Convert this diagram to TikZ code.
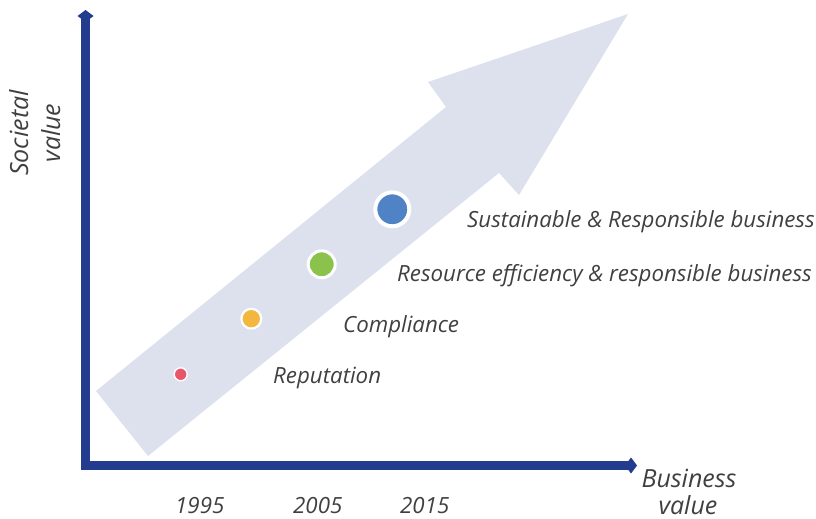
\documentclass[tikz,border=0pt]{standalone}
\usepackage{fontspec}
\setmainfont{Open Sans}
\usetikzlibrary{arrows.meta}
\definecolor{arrowbg}{HTML}{DDE1EE}
\definecolor{axiscol}{HTML}{233C8E}
\definecolor{txt}{HTML}{404040}
\definecolor{dotred}{HTML}{E8566B}
\definecolor{dotyellow}{HTML}{F3B73F}
\definecolor{dotgreen}{HTML}{8BC24C}
\definecolor{dotblue}{HTML}{5083C5}
\tikzset{
  axisline/.style={line width=9pt, draw=axiscol, line join=miter, {Diamond[length=12pt,width=16pt]}-{Diamond[length=12pt,width=16pt]}},
  lbl/.style={inner sep=0pt, text=txt, font=\fontsize{22.3}{26}\selectfont\itshape},
  biglbl/.style={lbl, font=\fontsize{25}{30}\selectfont\itshape},
  dot/.style={circle, draw=white, inner sep=0pt}
}
\begin{document}
\begin{tikzpicture}[x=1pt,y=-1pt]
\useasboundingbox (0,0) rectangle (816,519);
% big background arrow
\fill[arrowbg] (96,391) -- (446,107) -- (428,82) -- (628,14) -- (519,195) -- (499,173) -- (148,456) -- cycle;
% axes
\coordinate (ytop) at (85.5,10);
\coordinate (xend) at (637,465.5);
\draw[axisline] (ytop) |- (xend);
% dots
\node[dot, fill=dotred, line width=1.4pt, minimum size=13pt] (d1) at (180.7,374.3) {};
\node[dot, fill=dotyellow, line width=2.2pt, minimum size=19.8pt] (d2) at (251.3,318.7) {};
\node[dot, fill=dotgreen, line width=3pt, minimum size=27pt] (d3) at (321.7,264.3) {};
\node[dot, fill=dotblue, line width=4pt, minimum size=34pt] (d4) at (392.3,209.3) {};
% labels
\node[lbl, anchor=base west] (t4) at (467,227) {Sustainable \& Responsible business};
\node[lbl, anchor=base west] (t3) at (397,281) {Resource efficiency \& responsible business};
\node[lbl, anchor=base west] (t2) at (343,332) {Compliance};
\node[lbl, anchor=base west] (t1) at (273,383) {Reputation};
\node[lbl, anchor=base west] (y1) at (175,513) {1995};
\node[lbl, anchor=base west] (y2) at (293,513) {2005};
\node[lbl, anchor=base west] (y3) at (400,513) {2015};
\node[biglbl, anchor=base] (bx1) at (689,487) {Business};
\node[biglbl, anchor=base] (bx2) at (688,514) {value};
\node[biglbl, anchor=base, rotate=90] (sy1) at (28,133) {Societal};
\node[biglbl, anchor=base, rotate=90] (sy2) at (60,133) {value};
\end{tikzpicture}
\end{document}
